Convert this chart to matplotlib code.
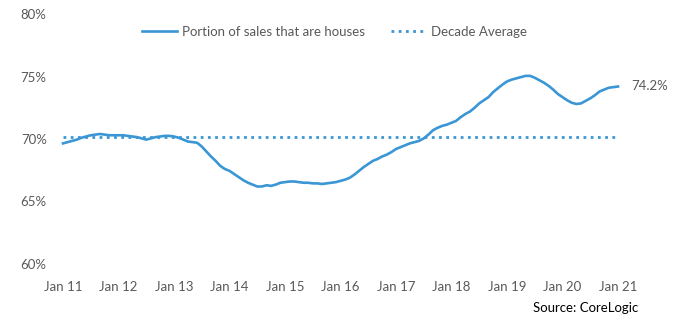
import numpy as np
import matplotlib.pyplot as plt

# Portion of sales that are houses (%), monthly Jan 2011 - Jan 2021
houses = [
    69.65, 69.75, 69.85, 69.95, 70.1, 70.2, 70.3, 70.35, 70.4, 70.35, 70.3, 70.3,
    70.3, 70.3, 70.25, 70.2, 70.15, 70.05, 69.95, 70.05, 70.15, 70.2, 70.25, 70.25,
    70.2, 70.1, 69.95, 69.8, 69.75, 69.7, 69.4, 69.0, 68.6, 68.25, 67.85, 67.6,
    67.45, 67.2, 66.95, 66.7, 66.5, 66.35, 66.2, 66.2, 66.3, 66.25, 66.35, 66.5,
    66.55, 66.6, 66.6, 66.55, 66.5, 66.5, 66.45, 66.45, 66.4, 66.45, 66.5, 66.55,
    66.65, 66.75, 66.9, 67.15, 67.45, 67.75, 68.0, 68.25, 68.4, 68.6, 68.75, 68.95,
    69.2, 69.35, 69.5, 69.65, 69.75, 69.85, 70.05, 70.35, 70.7, 70.9, 71.05, 71.15,
    71.3, 71.45, 71.75, 72.0, 72.2, 72.5, 72.85, 73.1, 73.35, 73.75, 74.05, 74.35,
    74.6, 74.75, 74.85, 74.95, 75.05, 75.05, 74.9, 74.7, 74.5, 74.25, 73.95, 73.6,
    73.35, 73.1, 72.9, 72.8, 72.85, 73.05, 73.25, 73.5, 73.8, 73.95, 74.1, 74.15,
    74.2,
]
decade_avg = 70.2
year_labels = ['Jan 11', 'Jan 12', 'Jan 13', 'Jan 14', 'Jan 15', 'Jan 16',
               'Jan 17', 'Jan 18', 'Jan 19', 'Jan 20', 'Jan 21']
y_ticks = [60, 65, 70, 75, 80]

blue = '#3A96D4'
grey = '#595959'
plt.rcParams['font.family'] = ['Lato', 'DejaVu Sans']

months = np.arange(len(houses))

fig = plt.figure(figsize=(6.73, 3.26), dpi=100)
ax = fig.add_axes([55 / 673, 1 - 264 / 326, 575 / 673, 250 / 326])

ax.plot(months, houses, color=blue, lw=1.9, label='Portion of sales that are houses')
ax.plot(months, [decade_avg] * len(months), color=blue, lw=2,
        ls=(0, (1, 1.6)), label='Decade Average')

ax.annotate('74.2%', (months[-1], houses[-1]), xytext=(9.5, 0),
            textcoords='offset points', va='center', ha='left',
            fontsize=9.5, color=grey)

ax.set_xlim(-8 / 4.625, 120 + 12 / 4.625)
ax.set_ylim(60, 80)
ax.set_xticks(months[::12])
ax.set_xticklabels(year_labels)
ax.set_yticks(y_ticks)
ax.set_yticklabels([f'{v}%' for v in y_ticks])
ax.tick_params(length=0, labelsize=9.5, colors=grey)
ax.tick_params(axis='x', pad=12)
ax.tick_params(axis='y', pad=6)
for s in ax.spines.values():
    s.set_visible(False)

fig.legend(loc='center', bbox_to_anchor=(0.497, 0.902), ncol=2, frameon=False,
           fontsize=9.5, labelcolor=grey, handlelength=2.6, columnspacing=2.0,
           handletextpad=0.4)

fig.text(638 / 673, 1 - 308 / 326, 'Source: CoreLogic', ha='right', va='center',
         fontsize=9.5, color='black')

fig.savefig('out.png', dpi=100)
